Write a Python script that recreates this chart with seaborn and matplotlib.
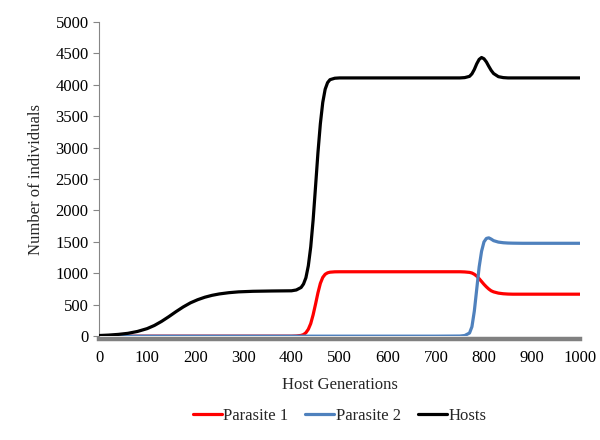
import numpy as np
import matplotlib
matplotlib.use("Agg")
import matplotlib.pyplot as plt
import pandas as pd
import seaborn as sns

# Host generations sampled (denser where the curves change)
generations = [0, 20, 40, 60, 80, 100, 115, 130, 145, 160, 175, 190, 205, 220, 235,
               250, 270, 290, 320, 360, 400,
               410, 420, 425, 430, 435, 440, 445, 450, 455, 460, 465, 470, 475, 480, 490, 500,
               550, 600, 650, 700, 750, 760, 770, 775, 780, 785, 790, 795, 800, 805,
               810, 815, 820, 830, 840, 850, 860, 880, 900, 950, 1000]

hosts = [10, 17, 28, 45, 75, 120, 170, 235, 310, 390, 465, 530, 580, 620, 650,
         672, 692, 705, 714, 719, 722,
         735, 775, 830, 930, 1120, 1420, 1850, 2380, 2920, 3380, 3720, 3930, 4035, 4082, 4105, 4110,
         4110, 4110, 4110, 4110, 4110, 4115, 4135, 4175, 4245, 4335, 4405, 4435, 4415, 4365,
         4295, 4230, 4180, 4130, 4115, 4110, 4110, 4110, 4110, 4110, 4110]

parasite1 = [0, 0, 0, 0, 0, 0, 0, 0, 0, 0, 0, 0, 0, 0, 0,
             0, 0, 0, 0, 0, 0,
             3, 12, 25, 55, 110, 200, 340, 510, 690, 840, 935, 985, 1008, 1018, 1024, 1025,
             1025, 1025, 1025, 1025, 1025, 1022, 1015, 1005, 985, 955, 915, 870, 825, 785,
             750, 722, 705, 685, 675, 670, 668, 668, 668, 668, 668]

parasite2 = [0, 0, 0, 0, 0, 0, 0, 0, 0, 0, 0, 0, 0, 0, 0,
             0, 0, 0, 0, 0, 0,
             0, 0, 0, 0, 0, 0, 0, 0, 0, 0, 0, 0, 0, 0, 0, 0,
             0, 0, 0, 0, 2, 10, 50, 150, 400, 750, 1100, 1350, 1500, 1555,
             1565, 1545, 1520, 1497, 1487, 1482, 1480, 1478, 1478, 1478, 1478]

df = pd.DataFrame({"Host Generations": generations,
                   "Parasite 1": parasite1,
                   "Parasite 2": parasite2,
                   "Hosts": hosts})
long = df.melt(id_vars="Host Generations", var_name="Series", value_name="Number")

sns.set_style("white")
plt.rcParams['font.family'] = ['Liberation Serif', 'DejaVu Serif']

fig = plt.figure(figsize=(6, 4.4), dpi=100)
ax = fig.add_axes([0.165, 0.236, 0.802, 0.714])

palette = {"Parasite 1": "#FF0000", "Parasite 2": "#4F81BD", "Hosts": "#000000"}
sns.lineplot(data=long, x="Host Generations", y="Number", hue="Series",
             palette=palette, linewidth=2.3, ax=ax, zorder=3)

ax.set_xlim(0, 1000)
ax.set_ylim(0, 5000)
ax.set_xticks(range(0, 1001, 100))
ax.set_yticks(range(0, 5001, 500))
ax.tick_params(axis="both", labelsize=12, colors="black")
ax.tick_params(axis="y", length=4, width=0.8, color="#868686", direction="out", left=True)
ax.tick_params(axis="x", length=0, pad=8)

for s in ["top", "right"]:
    ax.spines[s].set_visible(False)
ax.spines["left"].set_color("#868686")
ax.spines["left"].set_linewidth(0.8)
ax.spines["bottom"].set_color("#808080")
ax.spines["bottom"].set_linewidth(3.2)
ax.spines["bottom"].set_position(("outward", 2))
ax.spines["bottom"].set_zorder(1)

ax.set_xlabel("Host Generations", fontsize=12, labelpad=8)
ax.set_ylabel("Number of individuals", fontsize=12, labelpad=8)

leg = ax.legend(loc="center", bbox_to_anchor=(0.5, -0.255), ncol=3,
                frameon=False, fontsize=12, handlelength=1.75, handletextpad=0.1,
                columnspacing=1.0)
for line in leg.get_lines():
    line.set_linewidth(2.3)

fig.savefig("out.png", dpi=100)
